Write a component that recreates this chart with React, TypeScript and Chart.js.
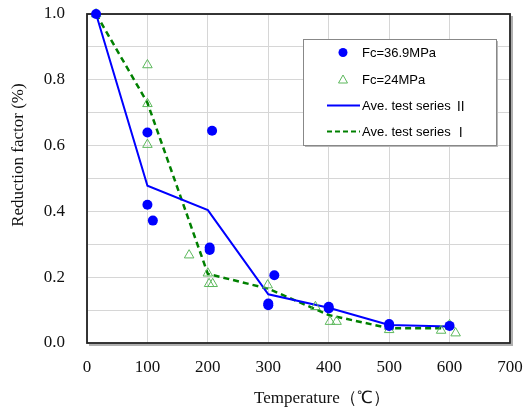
import React, { useEffect, useRef } from "react";
import { Chart, registerables } from "chart.js";

Chart.register(...registerables);

// Fc=36.9MPa measured points
const fc369X = [15, 100, 100, 109, 207, 203, 203, 300, 300, 310, 400, 400, 500, 500, 600];
const fc369Y = [1.0, 0.64, 0.42, 0.372, 0.645, 0.29, 0.283, 0.12, 0.115, 0.206, 0.105, 0.11, 0.058, 0.052, 0.052];

// Fc=24MPa measured points
const fc24X = [15, 100, 100, 100, 169, 200, 202, 208, 299, 378, 402, 413, 500, 500, 586, 600, 610];
const fc24Y = [1.0, 0.845, 0.727, 0.603, 0.267, 0.212, 0.18, 0.18, 0.176, 0.11, 0.065, 0.065, 0.04, 0.05, 0.038, 0.055, 0.03];

// Average lines
const aveIIX = [15, 100, 200, 300, 400, 500, 600];
const aveIIY = [1.0, 0.478, 0.404, 0.148, 0.107, 0.055, 0.05];
const aveIX = [15, 100, 200, 300, 400, 500, 600];
const aveIY = [1.0, 0.73, 0.21, 0.165, 0.085, 0.045, 0.045];

const legendLabels = ["Fc=36.9MPa", "Fc=24MPa", "Ave. test series Ⅱ", "Ave. test series Ⅰ"];
const xTitle = "Temperature（℃）";
const yTitle = "Reduction factor (%)";

const toPts = (xs: number[], ys: number[]) => xs.map((x, i) => ({ x, y: ys[i] }));

const BLUE = "#0000ff";
const GREEN = "#008000";
const TRI = "#5cb85c";
const PAD = "           "; // leading spaces shift the axis titles off-centre like the reference

const framePlugin = {
  id: "frame",
  beforeDatasetsDraw(chart: any) {
    const { ctx, chartArea: a } = chart;
    ctx.save();
    ctx.strokeStyle = "#b0b0b0";
    ctx.lineWidth = 2;
    ctx.beginPath();
    ctx.moveTo(a.right + 2, a.top + 2);
    ctx.lineTo(a.right + 2, a.bottom + 2);
    ctx.lineTo(a.left + 2, a.bottom + 2);
    ctx.stroke();
    ctx.strokeStyle = "#222222";
    ctx.lineWidth = 1.8;
    ctx.strokeRect(a.left, a.top, a.right - a.left, a.bottom - a.top);
    ctx.restore();
  },
};

const legendPlugin = {
  id: "boxLegend",
  afterDraw(chart: any) {
    const { ctx, chartArea: a } = chart;
    const lx = a.left + 216;
    const ly = a.top + 25;
    const w = 193;
    const h = 106;
    ctx.save();
    ctx.fillStyle = "#b8b8b8";
    ctx.fillRect(lx + 2, ly + 2, w, h);
    ctx.fillStyle = "#ffffff";
    ctx.fillRect(lx, ly, w, h);
    ctx.strokeStyle = "#888888";
    ctx.lineWidth = 1;
    ctx.strokeRect(lx + 0.5, ly + 0.5, w, h);
    const rows = [13.5, 40.5, 66.5, 92.5];
    const mx = lx + 40;
    const tx = lx + 59;
    const latin = "13px 'Liberation Sans', Arial, sans-serif";
    const cjk = "13px 'Noto Sans CJK JP', sans-serif";
    ctx.textBaseline = "middle";
    ctx.fillStyle = "#000";
    rows.forEach((ry, i) => {
      const y = ly + ry;
      if (i === 0) {
        ctx.fillStyle = BLUE;
        ctx.beginPath();
        ctx.arc(mx, y, 4.5, 0, Math.PI * 2);
        ctx.fill();
      } else if (i === 1) {
        ctx.strokeStyle = TRI;
        ctx.lineWidth = 1;
        ctx.beginPath();
        ctx.moveTo(mx, y - 4.5);
        ctx.lineTo(mx + 4.5, y + 3.5);
        ctx.lineTo(mx - 4.5, y + 3.5);
        ctx.closePath();
        ctx.stroke();
      } else {
        ctx.strokeStyle = i === 2 ? BLUE : GREEN;
        ctx.lineWidth = 2;
        ctx.setLineDash(i === 2 ? [] : [5, 3]);
        ctx.beginPath();
        ctx.moveTo(lx + 24, y);
        ctx.lineTo(lx + 57, y);
        ctx.stroke();
        ctx.setLineDash([]);
      }
      ctx.fillStyle = "#000";
      const label = legendLabels[i];
      const last = label.charAt(label.length - 1);
      if (last === "Ⅰ" || last === "Ⅱ") {
        const head = label.slice(0, -1);
        ctx.font = latin;
        ctx.fillText(head, tx, y + 1);
        const hw = ctx.measureText(head).width;
        ctx.font = cjk;
        ctx.fillText(last, tx + hw, y + 1);
      } else {
        ctx.font = latin;
        ctx.fillText(label, tx, y + 1);
      }
    });
    ctx.restore();
  },
};

export default function App() {
  const ref = useRef<HTMLCanvasElement | null>(null);

  useEffect(() => {
    document.body.style.margin = "0";
    if (!ref.current) return;
    const serif = "'Liberation Serif', 'Times New Roman', serif";
    const chart = new Chart(ref.current, {
      type: "scatter",
      data: {
        datasets: [
          {
            label: legendLabels[0],
            data: toPts(fc369X, fc369Y),
            pointStyle: "circle",
            pointRadius: 5,
            backgroundColor: BLUE,
            borderColor: BLUE,
            borderWidth: 0,
            showLine: false,
            clip: false as any,
          },
          {
            label: legendLabels[1],
            data: toPts(fc24X, fc24Y),
            pointStyle: "triangle",
            pointRadius: 5.5,
            backgroundColor: "rgba(0,0,0,0)",
            borderColor: TRI,
            borderWidth: 1,
            showLine: false,
            clip: false as any,
          },
          {
            label: legendLabels[2],
            data: toPts(aveIIX, aveIIY),
            showLine: true,
            pointRadius: 0,
            borderColor: BLUE,
            borderWidth: 2,
            backgroundColor: BLUE,
            clip: false as any,
          },
          {
            label: legendLabels[3],
            data: toPts(aveIX, aveIY),
            showLine: true,
            pointRadius: 0,
            borderColor: GREEN,
            borderWidth: 2.5,
            borderDash: [6, 4],
            backgroundColor: GREEN,
            clip: false as any,
          },
        ],
      },
      options: {
        animation: false,
        responsive: false,
        maintainAspectRatio: false,
        layout: { padding: { top: 14, right: 13, left: 0, bottom: 0 } },
        plugins: {
          legend: { display: false },
          tooltip: { enabled: false },
        },
        scales: {
          x: {
            type: "linear",
            min: 0,
            max: 700,
            afterFit: (s: any) => {
              s.height = 70;
              s.paddingLeft = 0;
              s.paddingRight = 0;
            },
            ticks: {
              stepSize: 100,
              padding: 14,
              color: "#111",
              font: { family: serif, size: 17 },
            },
            grid: { color: "#d6d6d6", drawTicks: false, lineWidth: 1 },
            border: { display: false },
            title: {
              display: true,
              text: PAD + xTitle,
              color: "#111",
              font: { family: serif, size: 17 },
              padding: { top: 0, bottom: 4 },
            },
          },
          y: {
            type: "linear",
            min: 0,
            max: 1,
            afterFit: (s: any) => {
              s.width = 87;
              s.paddingTop = 0;
              s.paddingBottom = 0;
            },
            ticks: {
              stepSize: 0.1,
              padding: 22,
              color: "#111",
              font: { family: serif, size: 17 },
              callback: (v: any) => {
                const n = Math.round(Number(v) * 10);
                return n % 2 === 0 ? (n / 10).toFixed(1) : "";
              },
            },
            grid: { color: "#d6d6d6", drawTicks: false, lineWidth: 1 },
            border: { display: false },
            title: {
              display: true,
              text: PAD + yTitle,
              color: "#111",
              font: { family: serif, size: 17 },
              padding: { top: 8, bottom: 0 },
            },
          },
        },
      },
      plugins: [framePlugin, legendPlugin],
    } as any);
    return () => chart.destroy();
  }, []);

  return (
    <div style={{ width: 523, height: 413, background: "#fff" }}>
      <canvas ref={ref} width={523} height={413} style={{ width: 523, height: 413 }} />
    </div>
  );
}
